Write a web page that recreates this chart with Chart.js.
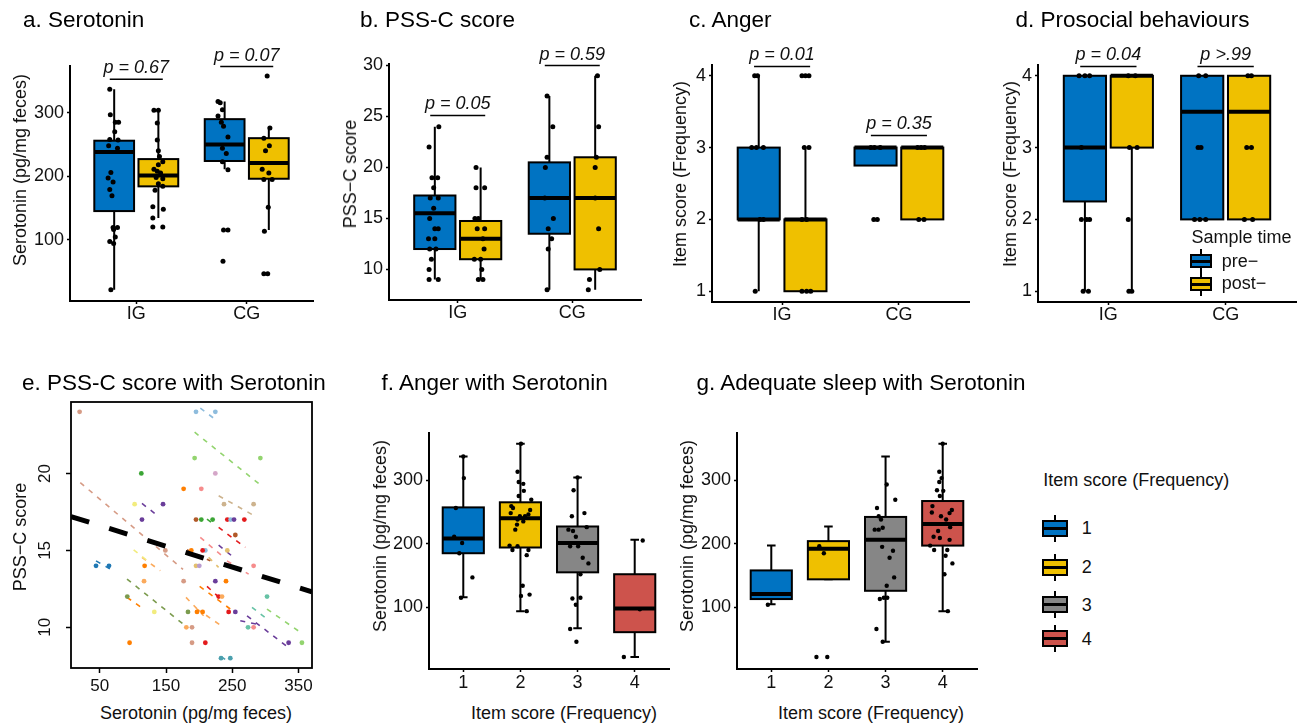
<!DOCTYPE html>
<html>
<head>
<meta charset="utf-8">
<title>Serotonin, stress and behaviour</title>
<script src="https://cdn.jsdelivr.net/npm/chart.js@4.4.1/dist/chart.umd.min.js"></script>
<style>
  html, body { margin: 0; padding: 0; background: #fff; }
  body { position: relative; width: 1309px; height: 724px; overflow: hidden;
         font-family: 'Liberation Sans', Arial, Helvetica, sans-serif; color: #111; }
  canvas { position: absolute; }
  .txt { position: absolute; white-space: nowrap; line-height: 1; }
  .key { position: absolute; box-sizing: border-box; }
</style>
</head>
<body>
<script>
const FONT = "'Liberation Sans', Arial, Helvetica, sans-serif";
Chart.defaults.font.family = FONT;
Chart.defaults.color = '#111';

// ---------- data ----------
const groups = ['IG', 'CG'];
const sampleTimes = ['pre\u2212', 'post\u2212'];
const itemScores = ['1', '2', '3', '4'];

// box stats are [lower whisker, Q1, median, Q3, upper whisker]
// paired panels: IG pre, IG post, CG pre, CG post
// points are [jitter offset, value]

// a. Serotonin
const serotoninTicks = [100, 200, 300];
const serotoninStats = [
  [21, 145, 238, 256, 337],
  [134, 184, 201, 227, 304],
  [211, 224, 250, 290, 318],
  [115, 196, 221, 260, 278]
];
const serotoninPoints = [
  [[-0.04,337],[-0.035,297],[0.01,285],[0.04,285],[0.005,270],[-0.04,258],[0.035,257],[-0.05,248],[0.03,244],[-0.03,206],[-0.055,197],[-0.01,191],[-0.04,179],[-0.02,169],[-0.01,119],[0.03,119],[-0.005,116],[0.01,104],[-0.04,97],[-0.005,94],[-0.03,21]],
  [[-0.04,304],[0,304],[-0.01,284],[-0.01,257],[0,240],[0.01,231],[0.04,223],[0,218],[-0.04,211],[-0.01,208],[0.02,205],[-0.02,198],[0.04,196],[0,188],[0.04,184],[-0.03,178],[-0.05,152],[0.045,148],[-0.05,134],[-0.05,120],[0.04,120]],
  [[-0.06,318],[-0.04,316],[-0.02,305],[-0.06,295],[-0.03,285],[-0.01,279],[0.03,262],[-0.02,244],[0.015,236],[-0.02,223],[0.03,210],[-0.01,115],[0.03,115],[-0.015,66]],
  [[-0.015,358],[0.01,276],[-0.045,260],[0.005,248],[-0.03,240],[-0.06,211],[0,205],[-0.045,195],[0.03,195],[-0.005,151],[-0.04,113],[-0.045,46],[-0.01,46]]
];
const serotoninP = ['p = 0.67', 'p = 0.07'];
const serotoninBracket = [353, 373];

// b. PSS-C score
const pssTicks = [10, 15, 20, 25, 30];
const pssStats = [
  [9, 12, 15.5, 17.25, 24],
  [9, 11, 13, 14.75, 20],
  [8, 13.5, 17, 20.5, 27],
  [8, 10, 17, 21, 29]
];
const pssPoints = [
  [[0.035,24],[-0.05,22],[-0.025,19],[0.025,19],[-0.01,18],[-0.04,17],[0.03,17],[-0.01,16],[-0.045,15],[0,14],[0.03,14],[-0.055,13],[0,13],[-0.045,12],[0.01,12],[-0.03,11],[-0.05,10],[-0.05,9],[0.03,9]],
  [[-0.04,20],[-0.04,18],[0.035,18],[-0.05,15],[-0.02,15],[-0.03,14],[0.035,14],[0.02,13],[0.03,12],[-0.055,11],[0,11],[0.01,10],[-0.02,9],[0.02,9]],
  [[-0.02,27],[0.03,24],[-0.02,21],[-0.035,20],[-0.04,17],[0.035,15],[-0.01,14],[0.02,13],[-0.01,12],[-0.02,8]],
  [[0.02,29],[0.03,24],[0.01,21],[0,20],[0,17],[0.03,14],[0.04,10],[-0.05,9],[-0.06,8]]
];
const pssP = ['p = 0.05', 'p = 0.59'];
const pssBracket = [25.1, 30];

// c. Anger
const itemTicks = [1, 2, 3, 4];
const angerStats = [
  [1, 2, 2, 3, 4],
  [1, 1, 2, 2, 3],
  [2.75, 2.75, 3, 3, 3],
  [2, 2, 3, 3, 3]
];
const angerPoints = [
  [[-0.035,4],[-0.01,4],[-0.06,3],[-0.02,3],[0.04,3],[0.01,2],[0.04,2],[-0.03,1]],
  [[-0.03,4],[0,4],[0.03,4],[-0.01,3],[0.03,3],[-0.03,2],[0.01,2],[-0.03,1],[0.01,1],[0.045,1]],
  [[-0.04,3],[-0.01,3],[0.04,3],[-0.015,2],[0.015,2]],
  [[-0.04,3],[-0.01,3],[0.02,3],[-0.03,2],[0.015,2]]
];
const angerP = ['p = 0.01', 'p = 0.35'];
const angerBracket = [4.13, 3.17];

// d. Prosocial behaviours
const prosocialStats = [
  [1, 2.25, 3, 4, 4],
  [1, 3, 4, 4, 4],
  [2, 2, 3.5, 4, 4],
  [2, 2, 3.5, 4, 4]
];
const prosocialPoints = [
  [[-0.05,4],[0,4],[0.04,4],[-0.03,3],[-0.03,2],[0.015,2],[0.04,2],[-0.015,1],[0.03,1]],
  [[-0.03,4],[0.03,4],[-0.02,3],[0.045,3],[-0.03,2],[-0.025,1],[0,1]],
  [[-0.03,4],[0.03,4],[-0.035,3],[-0.01,3],[-0.065,2],[-0.02,2],[0.03,2]],
  [[-0.01,4],[0.02,4],[-0.02,3],[0.02,3],[-0.04,2],[0.03,2]]
];
const prosocialP = ['p = 0.04', 'p >.99'];
const prosocialBracket = [4.13, 4.13];

// e. PSS-C score with Serotonin (one colour per participant)
const eXTicks = [50, 150, 250, 350];
const eYTicks = [10, 15, 20];
const eSerotonin = [19.5,112.7,176.6,102.6,145.5,113.7,44.3,63.9,117.7,149,116.8,176.6,91.5,132.3,183.2,180.7,189.3,95,189.3,188.2,
  195.3,224.5,193.2,292.5,224.5,203.3,237.6,282.3,195.3,203.3,220.4,242.6,247.6,252.7,268.3,254.7,209.4,205.3,242.6,195.3,
  200.3,282.3,224.5,240.6,229.5,234.6,302.6,196.8,205.3,244.6,254.7,273.9,282.3,209.4,335.2,355.3,233.1,247.1];
const ePss = [24,20,19,18,18,17,14,14,14,15,13,13,12,11,11,10,10,9,9,15,
  24,24,21,21,20,19,18,18,17,17,17,17,17,17,17,16,15,15,15,14,
  14,14,13,13,12,12,12,11,11,11,11,10,10,9,9,9,8,8];
const eSubject = [13,2,6,10,8,8,0,0,6,13,7,13,14,10,14,7,13,6,13,6,
  1,1,3,3,16,5,12,12,11,2,2,4,1,8,4,11,1,4,18,18,
  9,5,8,6,4,7,17,6,6,4,8,17,5,4,8,3,15,15];
// participant fitted lines: [serotonin from, PSS-C from, serotonin to, PSS-C to]
const eLines = [
  [20.5,19.4,175.7,13.77],[201.8,24.24,226,23.46],[193.2,22.68,291.4,19.29],[229.5,18.55,283.4,17.25],
  [113.7,18.05,136.4,17.29],[101.1,15.04,123.7,14.26],[113.7,14.55,141.4,13.68],[44.3,14.32,65.9,13.78],
  [91.1,13.14,179.2,10.1],[91.1,11.95,116.2,11.19],[181.7,15.04,216.9,14.32],[201.8,15.84,234.6,14.65],
  [229.5,16.49,269.8,15.19],[229.5,15.34,252.1,14.55],[242.1,14.32,274.8,13.46],[200.8,12.66,247.1,11.19],
  [211.9,12.66,232,11.88],[180.2,11.95,206.8,10.75],[196.8,11.19,237.1,10.0],[211.9,17.03,221.9,16.71],
  [279.9,11.3,302.6,10.54],[302.5,11.19,352.9,9.68],[262.2,10.43,287.4,10.21],[272.4,10.75,337.8,8.59],
  [233.1,8.1,240,7.9],[214.3,14.55,229.4,13.9]
];
const eLineSubject = [13,1,3,12,8,10,7,0,14,6,11,5,4,8,5,6,4,7,7,2,17,3,8,8,15,18];
const eFitX = [6.5, 370.5];
const eFitY = [17.2, 12.3];

// f. Anger with Serotonin (item score 1..4)
const angerSeroStats = [
  [116, 185, 208, 257, 337],
  [94, 194, 240, 265, 357],
  [67, 155, 201, 227, 304],
  [22, 61, 98, 152, 206]
];
const angerSeroPoints = [
  [[0,337],[0.01,303],[-0.13,256],[-0.16,211],[-0.02,201],[-0.07,185],[0.16,147],[-0.04,115]],
  [[0.01,357],[-0.05,313],[-0.03,297],[0.05,294],[0.06,283],[-0.03,275],[0.19,269],[-0.16,259],[-0.13,256],[0.17,253],[-0.17,248],[-0.01,243],[0.08,243],[-0.05,238],[0.14,246],[0.05,235],[-0.06,230],[-0.09,222],[-0.19,197],[-0.05,196],[-0.14,190],[0.14,190],[0.11,182],[0.04,134],[0.01,118],[0.16,120],[0.11,94]],
  [[0,304],[-0.07,284],[0.12,248],[-0.1,243],[-0.16,222],[-0.08,220],[0.16,226],[-0.03,211],[-0.13,196],[0.01,196],[0.09,178],[0.19,169],[0.05,152],[-0.09,114],[0.05,115],[-0.03,104],[-0.13,66],[-0.02,46]],
  [[0.14,205],[0.09,97],[-0.19,22]]
];

// g. Adequate sleep with Serotonin
const sleepSeroStats = [
  [105, 113, 121, 158, 197],
  [144, 144, 192, 204, 227],
  [46, 126, 206, 242, 337],
  [94, 197, 231, 267, 357]
];
const sleepSeroPoints = [
  [[-0.06,104]],
  [[-0.16,196],[-0.08,185],[-0.21,22],[-0.02,22]],
  [[0.02,293],[0.17,269],[-0.15,256],[-0.12,243],[-0.08,238],[-0.19,222],[-0.12,222],[-0.05,225],[-0.06,195],[0.13,189],[0.07,178],[0.15,147],[0.02,134],[-0.1,113],[-0.03,115],[0.03,115],[-0.16,66],[-0.05,46]],
  [[0,357],[-0.06,313],[-0.02,303],[-0.06,297],[-0.1,284],[0.01,283],[-0.05,275],[-0.18,259],[0.16,253],[-0.19,249],[0.12,248],[-0.03,243],[0.06,238],[0.13,226],[-0.08,220],[-0.16,211],[-0.05,209],[0.12,206],[-0.22,197],[-0.15,190],[0.08,190],[0.05,181],[0.17,169],[0.03,152],[0.09,94]]
];

// ---------- styling ----------
const jco = ['#0073C2', '#EFC000', '#868686', '#CD534C'];
const subjectColors = ['#1F78B4','#8EBCDD','#3BA535','#93D46F','#E31A1C','#F68C8C','#FF7F00','#FBAA5C','#6A3D9A',
  '#B99BD0','#F2EC7E','#B15928','#CDB38E','#D69B85','#7B9B4E','#4BA0AE','#D4A6C8','#66C2A5','#E3BF6E'];

// ---------- helpers ----------
function text(str, x, y, o = {}) {
  const size = o.size || 18;
  const d = document.createElement('div');
  d.className = 'txt';
  d.textContent = str;
  d.style.fontSize = size + 'px';
  if (o.italic) d.style.fontStyle = 'italic';
  if (o.color) d.style.color = o.color;
  d.style.left = x + 'px';
  if (o.rotate) {
    d.style.top = y + 'px';
    d.style.transform = 'translate(-50%,-50%) rotate(-90deg)';
  } else {
    d.style.top = (y - 0.846 * size) + 'px';   // y is the baseline
    if (o.center) d.style.transform = 'translateX(-50%)';
  }
  document.body.appendChild(d);
}

function legendKey(x, y, w, h, color) {
  const mk = (l, t, ww, hh, css) => {
    const d = document.createElement('div');
    d.className = 'key';
    Object.assign(d.style, { left: l + 'px', top: t + 'px', width: ww + 'px', height: hh + 'px' }, css);
    document.body.appendChild(d);
  };
  mk(x + w / 2 - 1, y - 5, 2, h + 10, { background: '#000' });
  mk(x, y, w, h, { background: color, border: '2px solid #000' });
  mk(x, y + h / 2 - 1.5, w, 3, { background: '#000' });
}

function makeCanvas(rect, pad) {
  const cv = document.createElement('canvas');
  const w = rect.r - rect.l + pad.l + pad.r;
  const h = rect.b - rect.t + pad.t + pad.b;
  cv.width = w; cv.height = h;
  cv.style.left = (rect.l - pad.l) + 'px';
  cv.style.top = (rect.t - pad.t) + 'px';
  document.body.appendChild(cv);
  return cv;
}

function boxPlugin(boxes) {
  return {
    id: 'boxes',
    beforeDatasetsDraw(chart) {
      const { ctx, scales: { x, y } } = chart;
      ctx.save();
      ctx.strokeStyle = '#000';
      boxes.forEach(b => {
        const [lo, q1, med, q3, hi] = b.stats.map(v => y.getPixelForValue(v));
        const xc = x.getPixelForValue(b.x);
        const xl = x.getPixelForValue(b.x - b.w / 2);
        const xr = x.getPixelForValue(b.x + b.w / 2);
        ctx.lineWidth = 2;
        ctx.beginPath();
        ctx.moveTo(xc, hi); ctx.lineTo(xc, q3);
        ctx.moveTo(xc, q1); ctx.lineTo(xc, lo);
        if (b.cap) {
          const c1 = x.getPixelForValue(b.x - b.cap / 2), c2 = x.getPixelForValue(b.x + b.cap / 2);
          ctx.moveTo(c1, hi); ctx.lineTo(c2, hi);
          ctx.moveTo(c1, lo); ctx.lineTo(c2, lo);
        }
        ctx.stroke();
        ctx.fillStyle = b.color;
        ctx.fillRect(xl, q3, xr - xl, q1 - q3);
        ctx.strokeRect(xl, q3, xr - xl, q1 - q3);
        ctx.lineWidth = 4;
        ctx.beginPath(); ctx.moveTo(xl, med); ctx.lineTo(xr, med); ctx.stroke();
      });
      ctx.restore();
    }
  };
}

function bracketPlugin(items) {
  return {
    id: 'brackets',
    afterDraw(chart) {
      const { ctx, scales: { x, y } } = chart;
      ctx.save();
      ctx.strokeStyle = '#000';
      ctx.lineWidth = 1.5;
      ctx.fillStyle = '#111';
      ctx.font = 'italic 18px ' + FONT;
      ctx.textAlign = 'center';
      ctx.textBaseline = 'alphabetic';
      items.forEach(b => {
        const py = y.getPixelForValue(b.y);
        const x1 = x.getPixelForValue(b.x1), x2 = x.getPixelForValue(b.x2);
        ctx.beginPath(); ctx.moveTo(x1, py); ctx.lineTo(x2, py); ctx.stroke();
        ctx.fillText(b.label, (x1 + x2) / 2, py - 6);
      });
      ctx.restore();
    }
  };
}

function axisStyle(fit, extra) {
  return Object.assign({
    type: 'linear',
    grid: { drawOnChartArea: false, drawTicks: true, tickLength: 3, tickColor: '#000', tickWidth: 1.5 },
    border: { display: true, color: '#000', width: 2 },
    ticks: { font: { size: 18, lineHeight: 1 }, color: '#111', padding: 3, autoSkip: false, maxRotation: 0 },
    afterFit: fit
  }, extra);
}

// box-plot panel; paired = two sample times per group
function boxPanel(rect, spec) {
  const pad = { l: 45, r: 12, t: 36, b: 32 };
  const cv = makeCanvas(rect, pad);
  const boxes = [], pts = [], brackets = [];
  spec.stats.forEach((s, i) => {
    const cx = spec.paired ? Math.floor(i / 2) + 1 + (i % 2 ? 0.2 : -0.2) : i + 1;
    boxes.push({ x: cx, w: spec.paired ? 0.36 : 0.72, cap: spec.paired ? 0 : 0.15,
                 stats: s, color: spec.paired ? jco[i % 2] : jco[i] });
    spec.points[i].forEach(([dx, v]) => pts.push({ x: cx + dx, y: v }));
  });
  (spec.pvals || []).forEach((p, g) => {
    brackets.push({ x1: g + 1 - 0.24, x2: g + 1 + 0.24, y: spec.bracketY[g], label: p });
  });
  const n = spec.labels.length;
  new Chart(cv, {
    type: 'scatter',
    data: { datasets: [{ data: pts, pointRadius: spec.paired ? 2.5 : 2.2,
      pointBackgroundColor: '#000', pointBorderWidth: 0 }] },
    options: {
      responsive: false, animation: false, events: [],
      layout: { autoPadding: false, padding: { left: 0, top: pad.t, right: pad.r, bottom: 0 } },
      plugins: { legend: { display: false }, tooltip: { enabled: false } },
      scales: {
        x: axisStyle(s => { s.height = pad.b; }, {
          min: 0.4, max: n + 0.6,
          afterBuildTicks: s => { s.ticks = spec.labels.map((_, i) => ({ value: i + 1 })); },
          ticks: { font: { size: 18, lineHeight: 1 }, color: '#111', padding: spec.xPad, autoSkip: false, maxRotation: 0,
                   callback: v => spec.labels[v - 1] }
        }),
        y: axisStyle(s => { s.width = pad.l; }, {
          min: spec.yMin, max: spec.yMax,
          afterBuildTicks: s => { s.ticks = spec.yTicks.map(v => ({ value: v })); }
        })
      }
    },
    plugins: [boxPlugin(boxes), bracketPlugin(brackets)]
  });
}

function scatterPanel(rect) {
  const pad = { l: 45, r: 10, t: 10, b: 34 };
  const cv = makeCanvas(rect, pad);
  const datasets = [{
    data: eFitX.map((v, i) => ({ x: v, y: eFitY[i] })), showLine: true, fill: false,
    borderColor: '#000', borderWidth: 5, borderDash: [19, 21], borderCapStyle: 'butt', pointRadius: 0, order: 0
  }, {
    data: eSerotonin.map((v, i) => ({ x: v, y: ePss[i] })),
    pointRadius: 2.4, pointBorderWidth: 0,
    pointBackgroundColor: eSubject.map(s => subjectColors[s]), order: 1
  }];
  eLines.forEach((seg, i) => datasets.push({
    data: [{ x: seg[0], y: seg[1] }, { x: seg[2], y: seg[3] }], showLine: true, fill: false,
    borderColor: subjectColors[eLineSubject[i]], borderWidth: 1.6, borderDash: [5, 6], pointRadius: 0, order: 2
  }));
  const frame = {
    id: 'frame',
    afterDraw(chart) {
      const { ctx, chartArea: a, scales: { y } } = chart;
      ctx.save();
      ctx.strokeStyle = '#000'; ctx.lineWidth = 1.8;
      ctx.strokeRect(a.left, a.top, a.right - a.left, a.bottom - a.top);
      ctx.fillStyle = '#111'; ctx.font = '17px ' + FONT;
      ctx.textAlign = 'center'; ctx.textBaseline = 'middle';
      eYTicks.forEach(v => {
        ctx.save();
        ctx.translate(a.left - 26, y.getPixelForValue(v));
        ctx.rotate(-Math.PI / 2);
        ctx.fillText(String(v), 0, 0);
        ctx.restore();
      });
      ctx.restore();
    }
  };
  new Chart(cv, {
    type: 'scatter',
    data: { datasets },
    options: {
      responsive: false, animation: false, events: [],
      layout: { autoPadding: false, padding: { left: 0, top: pad.t, right: pad.r, bottom: 0 } },
      plugins: { legend: { display: false }, tooltip: { enabled: false } },
      scales: {
        x: {
          type: 'linear', min: 6.5, max: 370.5,
          afterBuildTicks: s => { s.ticks = eXTicks.map(v => ({ value: v })); },
          afterFit: s => { s.height = pad.b; },
          grid: { drawOnChartArea: false, tickLength: 5, tickColor: '#000', tickWidth: 1.5 },
          border: { display: false },
          ticks: { font: { size: 17, lineHeight: 1 }, color: '#111', padding: 5, autoSkip: false, maxRotation: 0 }
        },
        y: {
          type: 'linear', min: 7.36, max: 24.64,
          afterBuildTicks: s => { s.ticks = eYTicks.map(v => ({ value: v })); },
          afterFit: s => { s.width = pad.l; },
          grid: { drawOnChartArea: false, tickLength: 5, tickColor: '#000', tickWidth: 1.5 },
          border: { display: false },
          ticks: { display: false }
        }
      }
    },
    plugins: [frame]
  });
}

// ---------- panels ----------
boxPanel({ l: 70, r: 313, t: 66, b: 301 }, { paired: true, labels: groups, yMin: 3.15, yMax: 373.85,
  yTicks: serotoninTicks, stats: serotoninStats, points: serotoninPoints, pvals: serotoninP, bracketY: serotoninBracket, xPad: 1 });
boxPanel({ l: 389, r: 641, t: 64, b: 300 }, { paired: true, labels: groups, yMin: 7.0, yMax: 30.15,
  yTicks: pssTicks, stats: pssStats, points: pssPoints, pvals: pssP, bracketY: pssBracket, xPad: 1 });
boxPanel({ l: 712, r: 969, t: 65, b: 302 }, { paired: true, labels: groups, yMin: 0.85, yMax: 4.15,
  yTicks: itemTicks, stats: angerStats, points: angerPoints, pvals: angerP, bracketY: angerBracket, xPad: 1 });
boxPanel({ l: 1038, r: 1296, t: 65, b: 302 }, { paired: true, labels: groups, yMin: 0.85, yMax: 4.15,
  yTicks: itemTicks, stats: prosocialStats, points: prosocialPoints, pvals: prosocialP, bracketY: prosocialBracket, xPad: 1 });
scatterPanel({ l: 71, r: 312, t: 402, b: 668 });
boxPanel({ l: 429, r: 669, t: 433, b: 669 }, { paired: false, labels: itemScores, yMin: 3.15, yMax: 373.85,
  yTicks: serotoninTicks, stats: angerSeroStats, points: angerSeroPoints, xPad: 2 });
boxPanel({ l: 737, r: 977, t: 433, b: 669 }, { paired: false, labels: itemScores, yMin: 3.15, yMax: 373.85,
  yTicks: serotoninTicks, stats: sleepSeroStats, points: sleepSeroPoints, xPad: 2 });

// ---------- titles and axis titles ----------
text('a. Serotonin', 23, 28, { size: 22.5, color: '#000' });
text('b. PSS-C score', 360, 28, { size: 22.5, color: '#000' });
text('c. Anger', 689, 28, { size: 22.5, color: '#000' });
text('d. Prosocial behaviours', 1015.5, 28, { size: 22.5, color: '#000' });
text('e. PSS-C score with Serotonin', 22, 391.5, { size: 22.5, color: '#000' });
text('f. Anger with Serotonin', 381.5, 391.5, { size: 22.5, color: '#000' });
text('g. Adequate sleep with Serotonin', 696.5, 391.5, { size: 22.5, color: '#000' });

text('Serotonin (pg/mg feces)', 19.5, 170, { rotate: true });
text('PSS\u2212C score', 349.5, 174, { rotate: true });
text('Item score (Frequency)', 680, 174, { rotate: true });
text('Item score (Frequency)', 1010, 174, { rotate: true });
text('PSS\u2212C score', 20, 537, { rotate: true });
text('Serotonin (pg/mg feces)', 379.5, 536, { rotate: true });
text('Serotonin (pg/mg feces)', 687, 536, { rotate: true });

text('Serotonin (pg/mg feces)', 196, 719, { center: true });
text('Item score (Frequency)', 564, 719, { center: true });
text('Item score (Frequency)', 871, 719, { center: true });

// ---------- legends ----------
text('Sample time', 1191.5, 243.5);
sampleTimes.forEach((s, i) => {
  legendKey(1190, 254 + i * 23, 22, 14, jco[i]);
  text(s, 1221.7, 267 + i * 22);
});

text('Item score (Frequency)', 1043.3, 486.7);
const keyTops = [519.5, 558.5, 596, 630];
itemScores.forEach((s, i) => {
  legendKey(1042.3, keyTops[i], 25.4, 17, jco[i]);
  text(s, 1081.7, keyTops[i] + 15);
});
</script>
</body>
</html>
